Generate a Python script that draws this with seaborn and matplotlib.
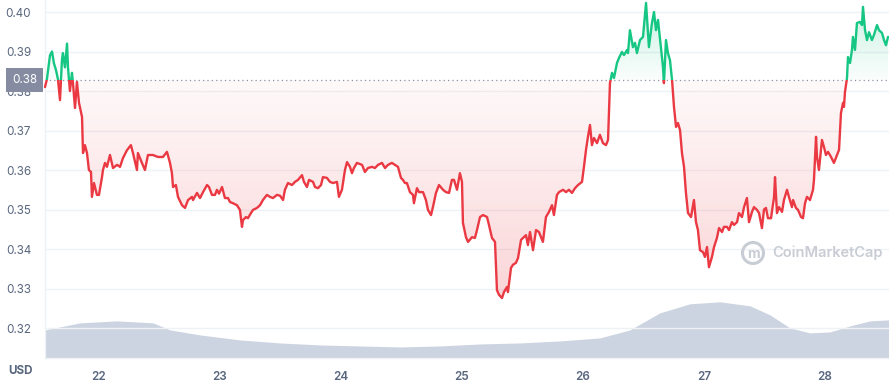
import numpy as np
import matplotlib
matplotlib.use("Agg")
import matplotlib.pyplot as plt
import seaborn as sns
from matplotlib.path import Path
from matplotlib.patches import Circle, Rectangle
from matplotlib.colors import to_rgb

# ---------------- data ----------------
days = [21.554, 21.570, 21.595, 21.612, 21.628, 21.645, 21.661, 21.678, 21.694, 21.702,
        21.719, 21.736, 21.744, 21.760, 21.777, 21.785, 21.802, 21.818, 21.835, 21.860,
        21.868, 21.884, 21.901, 21.917, 21.934, 21.942, 21.959, 21.983, 22.000, 22.025,
        22.033, 22.050, 22.066, 22.091, 22.116, 22.149, 22.174, 22.198, 22.231, 22.264,
        22.281, 22.314, 22.322, 22.355, 22.380, 22.405, 22.446, 22.488, 22.529, 22.562,
        22.587, 22.603, 22.612, 22.636, 22.653, 22.686, 22.711, 22.736, 22.769, 22.777,
        22.810, 22.835, 22.860, 22.893, 22.909, 22.934, 22.959, 22.975, 22.992, 23.017,
        23.041, 23.066, 23.083, 23.107, 23.140, 23.165, 23.182, 23.190, 23.215, 23.231,
        23.256, 23.273, 23.306, 23.331, 23.355, 23.388, 23.413, 23.438, 23.471, 23.496,
        23.521, 23.537, 23.562, 23.595, 23.620, 23.645, 23.678, 23.694, 23.719, 23.736,
        23.769, 23.785, 23.810, 23.835, 23.851, 23.884, 23.909, 23.934, 23.967, 23.983,
        24.008, 24.033, 24.050, 24.074, 24.091, 24.107, 24.132, 24.174, 24.198, 24.223,
        24.256, 24.281, 24.306, 24.339, 24.364, 24.388, 24.421, 24.446, 24.471, 24.496,
        24.512, 24.529, 24.545, 24.570, 24.595, 24.603, 24.628, 24.645, 24.678, 24.702,
        24.719, 24.744, 24.760, 24.785, 24.810, 24.843, 24.868, 24.893, 24.917, 24.934,
        24.959, 24.983, 25.000, 25.008, 25.033, 25.050, 25.083, 25.107, 25.124, 25.149,
        25.174, 25.207, 25.223, 25.248, 25.273, 25.289, 25.306, 25.331, 25.347, 25.372,
        25.380, 25.405, 25.421, 25.446, 25.463, 25.488, 25.504, 25.529, 25.545, 25.562,
        25.587, 25.612, 25.636, 25.669, 25.694, 25.719, 25.744, 25.760, 25.785, 25.802,
        25.835, 25.860, 25.884, 25.909, 25.934, 25.959, 25.992, 26.008, 26.025, 26.041,
        26.058, 26.074, 26.091, 26.116, 26.140, 26.165, 26.190, 26.207, 26.223, 26.240,
        26.256, 26.281, 26.298, 26.322, 26.339, 26.364, 26.372, 26.388, 26.413, 26.430,
        26.446, 26.471, 26.496, 26.521, 26.545, 26.570, 26.587, 26.603, 26.620, 26.636,
        26.661, 26.669, 26.686, 26.702, 26.719, 26.736, 26.752, 26.769, 26.785, 26.802,
        26.818, 26.835, 26.851, 26.868, 26.893, 26.917, 26.934, 26.950, 26.967, 26.992,
        27.008, 27.025, 27.041, 27.066, 27.083, 27.107, 27.124, 27.149, 27.165, 27.190,
        27.207, 27.231, 27.248, 27.273, 27.289, 27.314, 27.331, 27.355, 27.372, 27.397,
        27.413, 27.438, 27.455, 27.479, 27.496, 27.512, 27.529, 27.554, 27.579, 27.587,
        27.603, 27.620, 27.645, 27.661, 27.686, 27.702, 27.727, 27.736, 27.760, 27.777,
        27.802, 27.818, 27.835, 27.851, 27.876, 27.901, 27.909, 27.926, 27.934, 27.950,
        27.975, 27.992, 28.008, 28.025, 28.050, 28.074, 28.099, 28.116, 28.132, 28.149,
        28.157, 28.165, 28.182, 28.190, 28.207, 28.223, 28.231, 28.248, 28.264, 28.289,
        28.306, 28.314, 28.331, 28.347, 28.364, 28.388, 28.405, 28.430, 28.446, 28.471,
        28.488, 28.504, 28.521]

price = [0.3810, 0.3830, 0.3890, 0.3900, 0.3870, 0.3853, 0.3830, 0.3777, 0.3878, 0.3896,
         0.3860, 0.3920, 0.3860, 0.3800, 0.3846, 0.3820, 0.3757, 0.3823, 0.3770, 0.3734,
         0.3643, 0.3663, 0.3643, 0.3600, 0.3595, 0.3532, 0.3567, 0.3537, 0.3537, 0.3582,
         0.3600, 0.3618, 0.3608, 0.3638, 0.3605, 0.3613, 0.3608, 0.3630, 0.3650, 0.3663,
         0.3643, 0.3600, 0.3643, 0.3618, 0.3600, 0.3638, 0.3638, 0.3633, 0.3633, 0.3646,
         0.3618, 0.3592, 0.3557, 0.3562, 0.3532, 0.3511, 0.3504, 0.3524, 0.3532, 0.3524,
         0.3542, 0.3529, 0.3544, 0.3562, 0.3557, 0.3537, 0.3537, 0.3550, 0.3540, 0.3557,
         0.3529, 0.3529, 0.3519, 0.3516, 0.3511, 0.3499, 0.3456, 0.3473, 0.3481, 0.3478,
         0.3491, 0.3499, 0.3504, 0.3511, 0.3524, 0.3537, 0.3532, 0.3529, 0.3537, 0.3535,
         0.3524, 0.3550, 0.3567, 0.3562, 0.3570, 0.3575, 0.3587, 0.3570, 0.3557, 0.3575,
         0.3570, 0.3557, 0.3554, 0.3562, 0.3582, 0.3580, 0.3570, 0.3567, 0.3570, 0.3532,
         0.3550, 0.3600, 0.3620, 0.3608, 0.3592, 0.3605, 0.3618, 0.3613, 0.3595, 0.3605,
         0.3608, 0.3605, 0.3613, 0.3618, 0.3605, 0.3613, 0.3618, 0.3613, 0.3608, 0.3580,
         0.3575, 0.3567, 0.3567, 0.3544, 0.3537, 0.3516, 0.3554, 0.3544, 0.3544, 0.3524,
         0.3499, 0.3486, 0.3506, 0.3542, 0.3562, 0.3550, 0.3544, 0.3542, 0.3575, 0.3575,
         0.3550, 0.3592, 0.3570, 0.3466, 0.3430, 0.3418, 0.3430, 0.3428, 0.3448, 0.3481,
         0.3486, 0.3481, 0.3461, 0.3428, 0.3418, 0.3296, 0.3284, 0.3276, 0.3291, 0.3304,
         0.3291, 0.3352, 0.3360, 0.3365, 0.3377, 0.3423, 0.3428, 0.3435, 0.3410, 0.3443,
         0.3397, 0.3448, 0.3443, 0.3418, 0.3481, 0.3494, 0.3511, 0.3486, 0.3537, 0.3544,
         0.3550, 0.3544, 0.3550, 0.3542, 0.3554, 0.3562, 0.3570, 0.3608, 0.3651, 0.3684,
         0.3714, 0.3663, 0.3681, 0.3668, 0.3689, 0.3668, 0.3663, 0.3676, 0.3820, 0.3846,
         0.3833, 0.3871, 0.3884, 0.3899, 0.3891, 0.3904, 0.3896, 0.3954, 0.3911, 0.3922,
         0.3896, 0.3929, 0.3937, 0.4023, 0.3911, 0.3972, 0.4000, 0.3954, 0.3980, 0.3934,
         0.3861, 0.3820, 0.3929, 0.3896, 0.3878, 0.3828, 0.3760, 0.3709, 0.3719, 0.3701,
         0.3643, 0.3608, 0.3542, 0.3491, 0.3481, 0.3524, 0.3468, 0.3448, 0.3397, 0.3392,
         0.3380, 0.3405, 0.3354, 0.3380, 0.3405, 0.3428, 0.3453, 0.3443, 0.3456, 0.3456,
         0.3448, 0.3468, 0.3461, 0.3468, 0.3491, 0.3481, 0.3506, 0.3529, 0.3468, 0.3494,
         0.3506, 0.3499, 0.3491, 0.3453, 0.3500, 0.3504, 0.3478, 0.3478, 0.3532, 0.3582,
         0.3491, 0.3506, 0.3494, 0.3524, 0.3550, 0.3532, 0.3506, 0.3524, 0.3504, 0.3499,
         0.3481, 0.3478, 0.3516, 0.3532, 0.3524, 0.3550, 0.3575, 0.3684, 0.3633, 0.3600,
         0.3676, 0.3658, 0.3638, 0.3646, 0.3633, 0.3618, 0.3638, 0.3651, 0.3744, 0.3770,
         0.3760, 0.3797, 0.3833, 0.3886, 0.3871, 0.3904, 0.3937, 0.3904, 0.3972, 0.3975,
         0.3967, 0.4013, 0.3954, 0.3929, 0.3949, 0.3929, 0.3942, 0.3967, 0.3954, 0.3947,
         0.3929, 0.3916, 0.3937]

vol_days = [21.554, 21.678, 21.843, 22.000, 22.149, 22.446, 22.587, 22.835, 23.165, 23.496,
            23.826, 24.157, 24.488, 24.818, 25.149, 25.479, 25.810, 26.140, 26.388, 26.636,
            26.884, 27.132, 27.380, 27.545, 27.711, 27.876, 28.041, 28.207, 28.372, 28.529]
volume = [14.0, 15.5, 17.5, 18.0, 18.5, 17.5, 14.0, 11.5, 9.0, 7.5,
          6.5, 6.0, 5.5, 6.0, 7.0, 7.5, 8.5, 10.0, 14.0, 22.5,
          27.0, 28.0, 26.0, 21.5, 15.0, 12.5, 13.0, 16.0, 18.5, 19.0]

baseline = 0.3828
ytick_vals = [0.32, 0.33, 0.34, 0.35, 0.36, 0.37, 0.38, 0.39, 0.40]
xtick_vals = [22, 23, 24, 25, 26, 27, 28]

# ---------------- style ----------------
sns.set_theme(style="white")
plt.rcParams['font.family'] = ['Inter', 'DejaVu Sans']

RED = "#ea3943"
GREEN = "#16c784"
GRID = "#eff2f5"
TXT = "#58667e"
VOLC = "#cdd4e1"

fig = plt.figure(figsize=(8.89, 3.90), dpi=100)
ax = fig.add_axes([45 / 889, 1 - 358 / 390, 1 - 45 / 889, 358 / 390])
ax2 = ax.twinx()
ax.set_zorder(ax2.get_zorder() + 1)
ax.patch.set_visible(False)

x = np.array(days)
y = np.array(price)
xmin, xmax = 21.554, 28.529
ymin, ymax = 0.31241, 0.40304

# volume
ax2.fill_between(vol_days, volume, 0, color=VOLC, lw=0)
ax2.set_ylim(0, max(volume) / 0.157)
ax2.set_yticks([])
for s in ax2.spines.values():
    s.set_visible(False)

# gridlines
for v in ytick_vals:
    ax.axhline(v, color=GRID, lw=1, zorder=0)

def gradient(ax, x, y, base, color, above, a_far, a_near):
    if above:
        poly = ax.fill_between(x, y, base, where=y >= base, interpolate=True,
                               facecolor='none', edgecolor='none')
        ext = [xmin, xmax, base, ymax]
        alphas = np.linspace(a_far, a_near, 256)
    else:
        poly = ax.fill_between(x, y, base, where=y <= base, interpolate=True,
                               facecolor='none', edgecolor='none')
        ext = [xmin, xmax, ymin, base]
        alphas = np.linspace(a_near, a_far, 256)
    img = np.zeros((256, 1, 4))
    img[:, 0, :3] = to_rgb(color)
    img[:, 0, 3] = alphas
    im = ax.imshow(img, extent=ext, aspect='auto', origin='upper', zorder=1)
    path = Path.make_compound_path(*poly.get_paths())
    im.set_clip_path(path, transform=ax.transData)

gradient(ax, x, y, baseline, RED, above=False, a_far=0.26, a_near=0.03)
gradient(ax, x, y, baseline, GREEN, above=True, a_far=0.24, a_near=0.02)

# price line, coloured above / below the baseline
sns.lineplot(x=x, y=y, ax=ax, color=GREEN, lw=1.7, sort=False, estimator=None, zorder=3)
sns.lineplot(x=x, y=y, ax=ax, color=RED, lw=1.7, sort=False, estimator=None, zorder=3)
g_line, r_line = ax.lines[-2], ax.lines[-1]
g_line.set_clip_path(Rectangle((xmin - 1, baseline), xmax - xmin + 2, 1, transform=ax.transData))
r_line.set_clip_path(Rectangle((xmin - 1, baseline - 1), xmax - xmin + 2, 1, transform=ax.transData))

# baseline dotted
ax.axhline(baseline, color="#8a93a6", lw=0.9, ls=(0, (1, 2.5)), zorder=2)

ax.set_xlim(xmin, xmax)
ax.set_ylim(ymin, ymax)
ax.set_yticks(ytick_vals)
ax.set_yticklabels([f"{v:.2f}" for v in ytick_vals])
ax.set_xticks(xtick_vals)
ax.set_xticklabels([str(v) for v in xtick_vals], fontweight='semibold')
ax.tick_params(axis='y', length=0, pad=10, labelsize=8.4, labelcolor=TXT)
ax.tick_params(axis='x', length=4, width=0.8, color="#a6b0c3", pad=5,
               labelsize=8.4, labelcolor=TXT, direction='out')
ax.set_xlabel("")
ax.set_ylabel("")
for side in ['top', 'right']:
    ax.spines[side].set_visible(False)
for side in ['left', 'bottom']:
    ax.spines[side].set_color(GRID)
    ax.spines[side].set_linewidth(1)

# baseline label box
fig.text(24.5 / 889, 1 - 80 / 390, f"{baseline:.2f}", color="white", fontsize=8.4,
         ha='center', va='center', zorder=10,
         bbox=dict(boxstyle="square,pad=0.55", fc="#858ca2", ec="none"))

fig.text(8 / 889, 1 - 371 / 390, "USD", color=TXT, fontsize=8.4,
         fontweight='bold', ha='left', va='center')

# watermark
fig.text(772 / 889, 1 - 253 / 390, "CoinMarketCap", color="#c8ccd4",
         fontsize=10.5, fontweight='semibold', ha='left', va='center')
fig.patches.append(Circle((7.53, 3.90 - 2.53), 0.105, transform=fig.dpi_scale_trans,
                          fill=False, ec="#c8ccd4", lw=2.2))
fig.text(753 / 889, 1 - 254 / 390, "m", color="#c8ccd4", fontsize=10,
         fontweight='bold', ha='center', va='center')

fig.savefig("out.png", dpi=100)
